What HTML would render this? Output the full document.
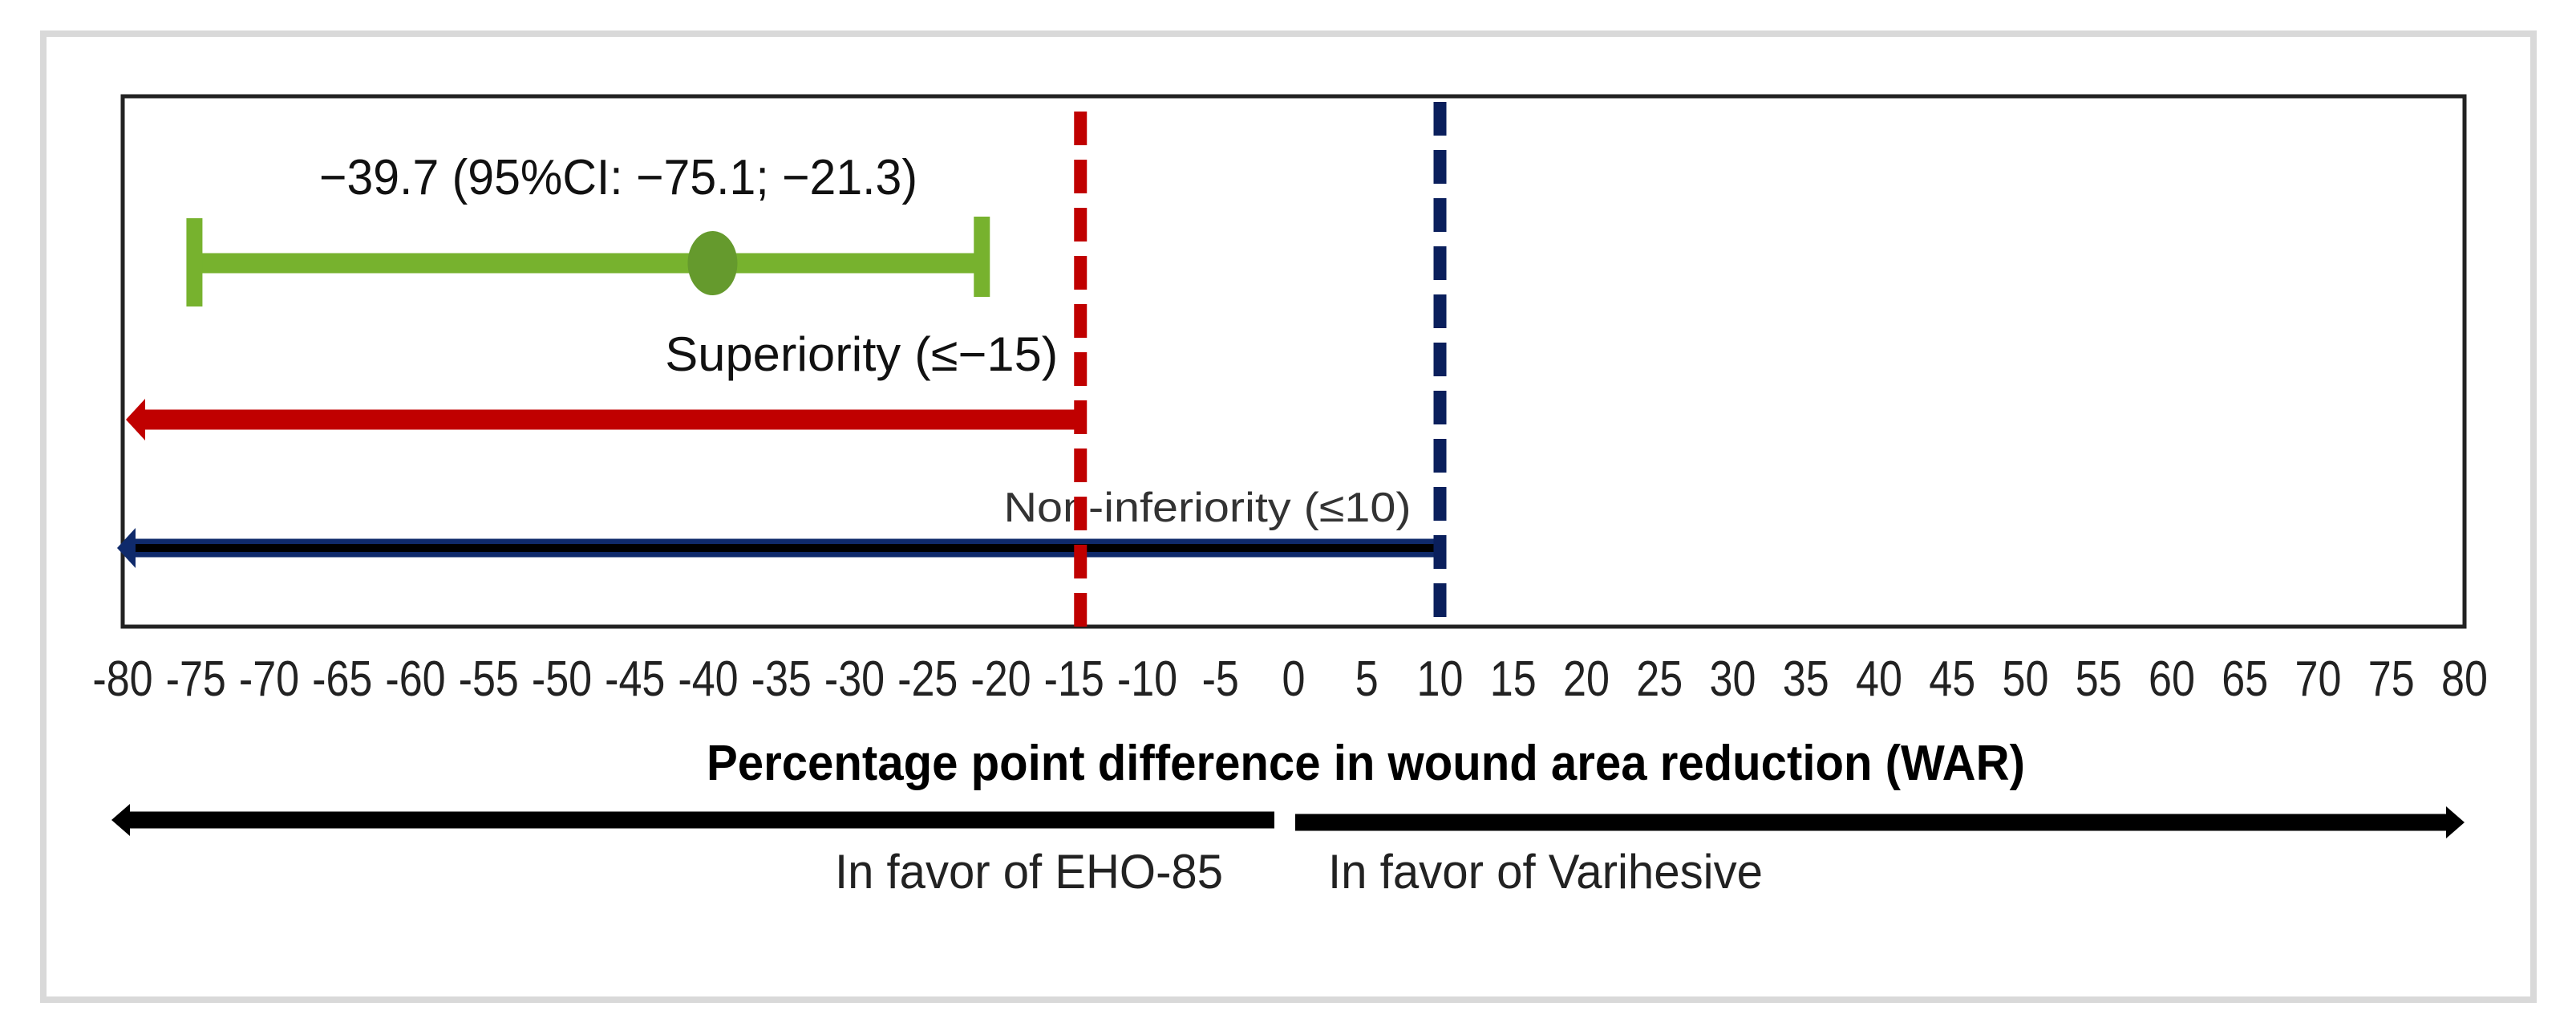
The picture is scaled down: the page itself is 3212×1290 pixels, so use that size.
<!DOCTYPE html>
<html><head><meta charset="utf-8"><style>
html,body{margin:0;padding:0;background:#fff;}
svg{display:block;}
text{font-family:"Liberation Sans",sans-serif;}
</style></head><body>
<svg id="chart" width="3212" height="1290" viewBox="0 0 3212 1290" xmlns="http://www.w3.org/2000/svg">
<rect x="54" y="42" width="3105" height="1204" fill="#fff" stroke="#d9d9d9" stroke-width="8"/>
<rect x="153" y="120" width="2920" height="661" fill="#fff" stroke="#222" stroke-width="5"/>
<g id="ticks"></g>
<g id="marks"></g>
<text x="881" y="972" font-size="62" font-weight="bold" textLength="1644" lengthAdjust="spacingAndGlyphs" fill="#000">Percentage point difference in wound area reduction (WAR)</text>
<line x1="160" y1="1022" x2="1589" y2="1022" stroke="#000" stroke-width="21"/>
<polygon points="139,1022 162,1002 162,1042" fill="#000"/>
<line x1="1615" y1="1025" x2="3050" y2="1025" stroke="#000" stroke-width="21"/>
<polygon points="3073,1025 3050,1005 3050,1045" fill="#000"/>
<text x="1041" y="1107" font-size="60" textLength="484" lengthAdjust="spacingAndGlyphs" fill="#222">In favor of EHO-85</text>
<text x="1656" y="1107" font-size="60" textLength="542" lengthAdjust="spacingAndGlyphs" fill="#222">In favor of Varihesive</text>
</svg>
<script>
const tickValues = [-80,-75,-70,-65,-60,-55,-50,-45,-40,-35,-30,-25,-20,-15,-10,-5,0,5,10,15,20,25,30,35,40,45,50,55,60,65,70,75,80];
const ciEstimate = [-39.7];
const ciLower = [-75.1];
const ciUpper = [-21.3];
const superiorityMargin = [-15];
const nonInferiorityMargin = [10];
const xMin = -80, xMax = 80;

const NS = "http://www.w3.org/2000/svg";
const X0 = 153, X1 = 3073;
function xs(v){ return X0 + (v - xMin) / (xMax - xMin) * (X1 - X0); }
function mk(tag, attrs, parent){
  const e = document.createElementNS(NS, tag);
  for (const k in attrs) e.setAttribute(k, attrs[k]);
  parent.appendChild(e);
  return e;
}
const tg = document.getElementById('ticks');
tickValues.forEach(v => {
  const t = mk('text', {x: xs(v), y: 867, 'font-size': 62, 'text-anchor': 'middle', fill: '#222',
    transform: `translate(${xs(v)},0) scale(0.84,1) translate(${-xs(v)},0)`}, tg);
  
  
  t.textContent = String(v);
});
const mg = document.getElementById('marks');
const sx = xs(superiorityMargin[0]) + 8;
let e = mk('line', {x1: xs(xMin) + 22, y1: 523, x2: sx, y2: 523, stroke: '#c00000', 'stroke-width': 25}, mg);


e = mk('polygon', {points: `${xs(xMin)+4},523 ${xs(xMin)+28},497 ${xs(xMin)+28},549`, fill: '#c00000'}, mg);


e = mk('text', {x: sx - 28, y: 462, 'font-size': 60, 'text-anchor': 'end', textLength: 490, lengthAdjust: 'spacingAndGlyphs', fill: '#111'}, mg);


e.textContent = 'Superiority (\u2264\u221215)';
const nx = xs(nonInferiorityMargin[0]);
e = mk('line', {x1: xs(xMin) + 14, y1: 683, x2: nx, y2: 683, stroke: '#0f2a6b', 'stroke-width': 23}, mg);


e = mk('line', {x1: xs(xMin) + 14, y1: 683, x2: nx, y2: 683, stroke: '#000', 'stroke-width': 10}, mg);


e = mk('polygon', {points: `${xs(xMin)-7},683 ${xs(xMin)+16},658 ${xs(xMin)+16},708`, fill: '#0f2a6b'}, mg);


e = mk('text', {x: nx - 36, y: 650, 'font-size': 52, 'text-anchor': 'end', textLength: 508, lengthAdjust: 'spacingAndGlyphs', fill: '#333'}, mg);


e.textContent = 'Non-inferiority (\u226410)';
e = mk('line', {x1: sx, y1: 139, x2: sx, y2: 786, stroke: '#c00000', 'stroke-width': 16, 'stroke-dasharray': '42 18'}, mg);


e = mk('line', {x1: nx, y1: 127, x2: nx, y2: 775, stroke: '#0a1f5c', 'stroke-width': 16, 'stroke-dasharray': '42 18'}, mg);


const lx = xs(ciLower[0]), ux = xs(ciUpper[0]), px = xs(ciEstimate[0]);
e = mk('line', {x1: lx, y1: 328, x2: ux, y2: 328, stroke: '#77b22e', 'stroke-width': 25}, mg);


e = mk('rect', {x: lx - 10, y: 272, width: 20, height: 110, fill: '#77b22e'}, mg);


e = mk('rect', {x: ux - 10, y: 270, width: 20, height: 100, fill: '#77b22e'}, mg);


e = mk('ellipse', {cx: px, cy: 328, rx: 31, ry: 40, fill: '#659a2d'}, mg);


e = mk('text', {x: 398, y: 242, 'font-size': 62, textLength: 746, lengthAdjust: 'spacingAndGlyphs', fill: '#111'}, mg);


e.textContent = '\u221239.7 (95%CI: \u221275.1; \u221221.3)';
</script>
</body></html>
